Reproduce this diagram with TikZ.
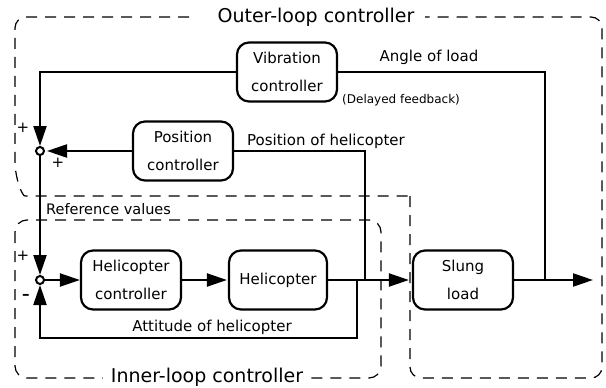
\documentclass[tikz,border=0pt]{standalone}
\usepackage{fontspec}
\setmainfont{DejaVu Sans}
\usetikzlibrary{arrows.meta}
\tikzset{
  blk/.style={draw, line width=2.2pt, rounded corners=12pt, minimum width=100pt, minimum height=59pt, align=center, inner sep=0pt, font=\fontsize{15}{28}\selectfont},
  junc/.style={circle, draw, fill=white, line width=2pt, inner sep=0pt, minimum size=8pt},
  sig/.style={line width=2.2pt},
  arr/.style={line width=2.2pt, -{Triangle[length=20pt,width=13pt]}},
  dashline/.style={line width=1.2pt, dash pattern=on 11pt off 8pt},
  lbl/.style={inner sep=0pt, font=\fontsize{15}{18}\selectfont},
  big/.style={fill=white, inner xsep=8pt, inner ysep=2pt, font=\fontsize{19}{22}\selectfont},
}
\begin{document}
\begin{tikzpicture}[x=1pt,y=-1pt]
\useasboundingbox (0,0) rectangle (606,388);

% dashed regions
\draw[dashline, rounded corners=11pt] (189,17) -- (15,17) -- (15,150) .. controls (15,178) and (22,196) .. (36,196) -- (410,196);
\draw[dashline, rounded corners=11pt] (410,196) -- (410,378) -- (602,378) -- (602,17) -- (425,17);
\draw[dashline, rounded corners=12pt] (15,220) rectangle (381,378);

% blocks
\node[blk] (vib) at (287,72) {Vibration\\controller};
\node[blk] (pos) at (183,151) {Position\\controller};
\node[blk] (hc) at (131,280) {Helicopter\\controller};
\node[blk, minimum width=98pt] (heli) at (278,280) {Helicopter};
\node[blk] (slung) at (463,280) {Slung\\load};

\node[junc] (j1) at (40,151) {};
\node[junc] (j2) at (40,280) {};

\coordinate (attJ) at (357,280);
\coordinate (posJ) at (365,280);
\coordinate (angJ) at (545,280);
\coordinate (out) at (593,280);

% connectors
\draw[arr] (vib.west) -| (j1.north);
\draw[sig] (angJ) |- (vib.east);
\draw[arr, shorten >=2pt] (pos.west) -- (j1.east);
\draw[sig] (posJ) |- (pos.east);
\draw[arr] (j1.south) -- (j2.north);
\draw[arr] (j2.east) -- (hc.west);
\draw[arr, shorten >=1pt] (hc.east) -- (heli.west);
\draw[arr, shorten >=3pt] (heli.east) -- (slung.west);
\draw[arr] (slung.east) -- (out);
\draw[arr] (attJ) -- ++(0,58) -| (j2.south);

% labels
\node[lbl] (tAng) at (429,57) {Angle of load};
\node[lbl, anchor=west, font=\fontsize{12}{14}\selectfont] (tDel) at (342,100) {(Delayed feedback)};
\node[lbl] (tPos) at (326,141) {Position of helicopter};
\node[lbl, anchor=west, font=\fontsize{14.5}{17}\selectfont] (tRef) at (46,209) {Reference values};
\node[lbl] (tAtt) at (212,327) {Attitude of helicopter};
\node[big, inner xsep=4pt] (tOuter) at (316,17) {Outer-loop controller};
\node[big] (tInner) at (207,377) {Inner-loop controller};

\node[lbl] (p1) at (23,128) {+};
\node[lbl] (p2) at (58,163) {+};
\node[lbl] (p3) at (23,256) {+};
\node[lbl, font=\bfseries\fontsize{15}{18}\selectfont] (m1) at (26,297) {\textendash};
\end{tikzpicture}
\end{document}
